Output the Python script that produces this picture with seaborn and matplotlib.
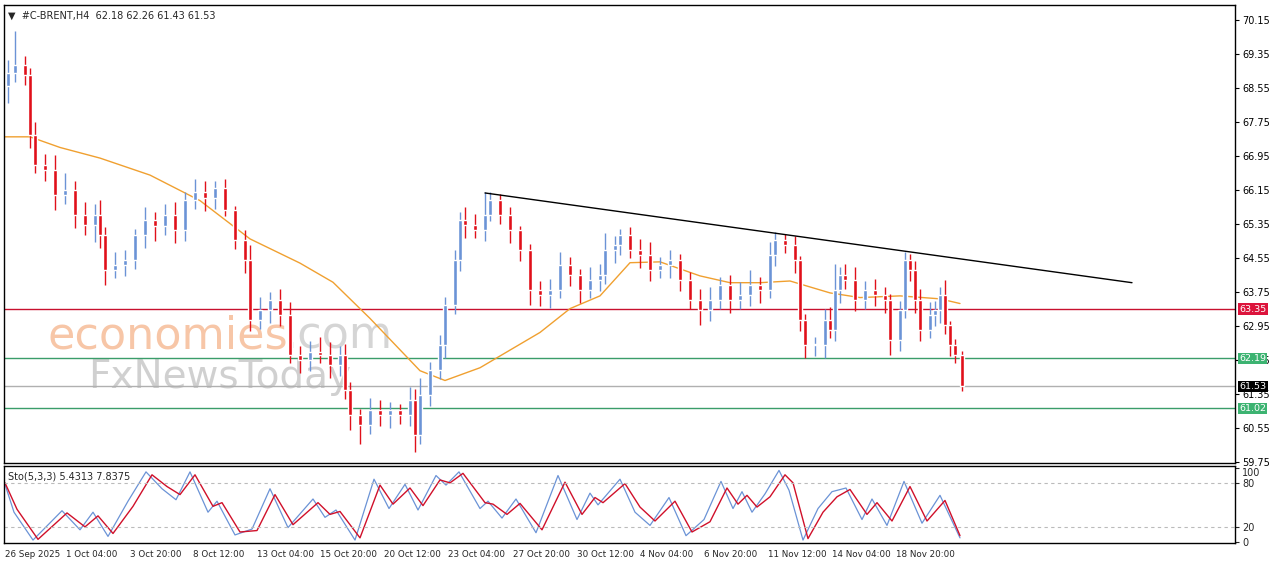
import matplotlib
matplotlib.use("Agg")
import matplotlib.pyplot as plt
import seaborn as sns
import numpy as np
import pandas as pd

# ---------------- data ----------------
times = [8,15,25,30,35,45,55,65,75,85,
         95,100,105,115,125,135,145,155,165,175,
         185,195,205,215,225,235,245,250,260,270,
         280,290,300,310,320,330,340,345,350,360,
         370,380,390,400,410,415,420,430,440,445,
         455,460,465,475,485,490,500,510,520,530,
         540,550,560,570,580,590,600,605,615,620,
         630,640,650,660,670,680,690,700,710,720,
         730,740,750,760,770,775,785,795,800,805,
         815,825,830,835,840,845,855,865,875,885,
         890,900,905,910,915,920,930,935,940,945,
         950,955,962]
closes = [68.90,69.09,68.86,67.44,66.74,66.62,66.03,66.15,65.56,65.33,
          65.56,65.09,64.27,64.38,64.50,65.09,65.44,65.30,65.56,65.21,
          65.91,66.10,65.95,66.20,65.68,64.97,64.50,63.09,63.33,63.56,
          63.21,62.27,62.15,62.35,62.27,62.03,62.27,61.44,60.85,60.62,
          60.97,60.85,60.97,60.85,61.21,60.38,61.32,61.91,62.50,63.44,
          64.50,65.44,65.33,65.21,65.56,65.91,65.56,65.21,64.74,63.80,
          63.68,63.80,64.38,64.15,63.80,64.03,64.15,64.74,64.86,65.09,
          64.74,64.62,64.27,64.38,64.50,64.03,63.56,63.33,63.56,63.91,
          63.56,63.68,63.91,63.80,64.62,64.97,64.86,64.50,63.09,62.50,
          62.50,63.09,62.86,63.80,64.15,64.03,63.56,63.80,63.68,63.56,
          62.62,63.33,64.50,64.27,63.56,62.86,63.21,63.33,63.68,62.97,
          62.50,62.27,61.53]
first_open = 68.60
wick_up = [0.30,0.80,0.20,0.15,0.30,0.25,0.35,0.40,0.20,0.30,
           0.25,0.35,0.20,0.30,0.25,0.15,0.30,0.20,0.25,0.30,
           0.20,0.30,0.25,0.15,0.20,0.10,0.25,0.35,0.30,0.20,
           0.25,0.30,0.20,0.25,0.35,0.30,0.20,0.25,0.20,0.15,
           0.30,0.25,0.20,0.15,0.30,0.25,0.40,0.20,0.25,0.20,
           0.25,0.20,0.30,0.25,0.55,0.20,0.15,0.20,0.10,0.15,
           0.20,0.25,0.30,0.20,0.15,0.30,0.25,0.40,0.20,0.15,
           0.20,0.25,0.30,0.20,0.25,0.15,0.20,0.25,0.30,0.20,
           0.25,0.30,0.35,0.20,0.30,0.20,0.15,0.20,0.10,0.15,
           0.20,0.25,0.30,0.60,0.20,0.25,0.30,0.20,0.25,0.20,
           0.15,0.20,0.20,0.15,0.20,0.25,0.30,0.20,0.20,0.35,
           0.10,0.15,0.10]
wick_dn = [0.40,0.20,0.25,0.30,0.20,0.25,0.35,0.20,0.30,0.25,
           0.40,0.30,0.35,0.20,0.25,0.20,0.30,0.35,0.20,0.30,
           0.25,0.20,0.30,0.25,0.15,0.20,0.30,0.25,0.20,0.30,
           0.25,0.20,0.30,0.25,0.20,0.30,0.25,0.20,0.35,0.45,
           0.20,0.25,0.30,0.20,0.25,0.40,0.20,0.25,0.20,0.30,
           0.20,0.25,0.30,0.20,0.25,0.15,0.20,0.30,0.25,0.35,
           0.25,0.30,0.20,0.25,0.30,0.20,0.25,0.20,0.30,0.25,
           0.20,0.30,0.25,0.20,0.30,0.25,0.20,0.35,0.25,0.20,
           0.30,0.20,0.25,0.30,0.20,0.25,0.20,0.30,0.25,0.30,
           0.25,0.30,0.20,0.25,0.30,0.20,0.25,0.20,0.25,0.30,
           0.35,0.25,0.20,0.25,0.30,0.25,0.20,0.25,0.30,0.20,
           0.25,0.20,0.10]

ma_times = [5,30,60,100,150,200,250,300,333,370,420,445,480,540,570,600,630,660,700,730,760,790,830,860,900,940,960]
ma_values = [67.40,67.40,67.15,66.90,66.50,65.90,65.00,64.43,63.98,63.13,61.90,61.67,61.97,62.80,63.36,63.66,64.44,64.46,64.13,63.97,63.97,64.01,63.73,63.62,63.66,63.59,63.48]

trend_times = [485, 1132]
trend_values = [66.08, 63.97]

levels = [63.35, 62.19, 61.53, 61.02]
level_colors = ["#c8102e", "#3a9d6a", "#b0b0b0", "#3a9d6a"]
level_box = ["#dc143c", "#3cb371", "#000000", "#3cb371"]

sto_d_t = [5,17,38,67,85,98,113,133,152,167,180,195,213,222,240,257,275,293,318,330,340,360,380,393,410,423,440,450,463,485,
           493,507,520,542,565,582,595,603,625,640,655,675,692,710,727,738,747,757,770,785,793,808,823,837,850,867,877,892,910,927,945,960]
sto_d_v = [80,44,3,39,20,35,11,48,91,75,64,91,48,53,13,15,64,23,53,37,41,5,77,51,73,49,84,80,93,53,
           51,37,52,16,81,37,60,53,79,47,28,55,13,27,73,51,63,47,61,91,80,4,40,61,71,37,53,28,75,28,56,8]
sto_k_t = [5,14,33,62,80,93,108,128,146,162,176,190,208,217,235,252,270,288,313,325,336,355,374,389,405,418,436,446,459,480,
           488,502,516,536,558,577,590,598,620,635,650,669,686,704,721,733,742,752,765,779,789,803,818,832,846,862,872,887,904,922,940,960]
sto_k_v = [78,40,2,42,16,40,7,55,95,72,57,95,40,55,9,17,72,19,58,33,43,2,85,45,78,43,90,77,95,45,
           55,32,58,12,90,30,66,50,85,40,22,60,8,30,82,45,68,40,65,97,70,2,45,68,73,30,58,22,82,25,63,5]

tick_pos = [5,66,130,193,257,320,384,448,513,577,640,704,768,832,896]
tick_labels = ["26 Sep 2025","1 Oct 04:00","3 Oct 20:00","8 Oct 12:00","13 Oct 04:00","15 Oct 20:00",
               "20 Oct 12:00","23 Oct 04:00","27 Oct 20:00","30 Oct 12:00","4 Nov 04:00","6 Nov 20:00",
               "11 Nov 12:00","14 Nov 04:00","18 Nov 20:00"]
price_ticks = [70.15,69.35,68.55,67.75,66.95,66.15,65.35,64.55,63.75,62.95,62.15,61.35,60.55,59.75]

# ---------------- figure ----------------
sns.set_style("white")
plt.rcParams["font.family"] = "DejaVu Sans"
W, H = 1280, 567
fig = plt.figure(figsize=(W/100, H/100), dpi=100)
fig.patch.set_facecolor("white")

def ax_rect(l, t, r, b):
    return [l/W, 1-b/H, (r-l)/W, (b-t)/H]

ax = fig.add_axes(ax_rect(4, 5, 1235, 463))
ax2 = fig.add_axes(ax_rect(4, 466, 1235, 543))

BULL, BEAR = "#6b93d6", "#e0101a"
opens = [first_open] + closes[:-1]
df = pd.DataFrame({"t": times, "o": opens, "c": closes, "wu": wick_up, "wd": wick_dn})
df["hi"] = df[["o", "c"]].max(axis=1) + df["wu"]
df["lo"] = df[["o", "c"]].min(axis=1) - df["wd"]
df["col"] = np.where(df["c"] >= df["o"], BULL, BEAR)
ax.vlines(df["t"], df["lo"], df["hi"], colors=df["col"], linewidth=1, zorder=3)
body = (df["c"] - df["o"]).abs().clip(lower=0.03)
ax.bar(df["t"], body, bottom=df[["o", "c"]].min(axis=1), width=4.5, color=df["col"], zorder=4)

sns.lineplot(x=ma_times, y=ma_values, ax=ax, color="#f0a030", linewidth=1, zorder=2)
sns.lineplot(x=trend_times, y=trend_values, ax=ax, color="black", linewidth=1, zorder=5)
for lv, lc in zip(levels, level_colors):
    ax.axhline(lv, color=lc, linewidth=1, zorder=1)

# watermark
ax.text(48, 62.72, "economies", fontsize=32, color="#f5b38a", alpha=0.75, zorder=0, va="center")
ax.text(283, 62.72, ".com", fontsize=32, color="#c8c8c8", alpha=0.75, zorder=0, va="center")
ax.text(88, 61.75, "FxNewsToday", fontsize=28, color="#bdbdbd", alpha=0.7, zorder=0, va="center")

ax.set_xlim(4, 1235)
ax.set_ylim(59.73, 70.50)
ax.yaxis.tick_right()
ax.set_yticks(price_ticks)
ax.set_yticklabels([f"{p:.2f}" for p in price_ticks])
ax.tick_params(axis="y", labelsize=7, length=3, pad=2, colors="black", direction="out")
ax.set_xticks([])
ax.set_xlabel(""); ax.set_ylabel("")
for s in ax.spines.values():
    s.set_color("black"); s.set_linewidth(1)
for lv, bc in zip(levels, level_box):
    ax.text(1.0035, lv, f"{lv:.2f}", transform=ax.get_yaxis_transform(), fontsize=6.8, color="white",
            va="center", ha="left", zorder=10,
            bbox=dict(boxstyle="square,pad=0.12", facecolor=bc, edgecolor="none"))
ax.text(0.003, 0.987, "\u25bc  #C-BRENT,H4  62.18 62.26 61.43 61.53", transform=ax.transAxes,
        fontsize=7, va="top", ha="left")

# stochastic
sns.lineplot(x=sto_k_t, y=sto_k_v, ax=ax2, color="#6b93d6", linewidth=0.9)
sns.lineplot(x=sto_d_t, y=sto_d_v, ax=ax2, color="#d0102a", linewidth=1)
for lv in (80, 20):
    ax2.axhline(lv, color="#bbbbbb", linewidth=0.8, linestyle=(0, (3, 3)))
ax2.set_xlim(4, 1235)
ax2.set_ylim(-2, 103)
ax2.yaxis.tick_right()
ax2.set_yticks([100, 80, 20, 0])
ax2.set_yticklabels(["100", "80", "20", "0"])
ax2.tick_params(axis="y", labelsize=7, length=3, pad=2)
for lbl in ax2.get_yticklabels():
    if lbl.get_text() == "100":
        lbl.set_va("top")
ax2.set_xticks(tick_pos)
ax2.set_xticklabels(tick_labels, ha="left")
ax2.tick_params(axis="x", labelsize=6.3, length=4, pad=1)
ax2.set_xlabel(""); ax2.set_ylabel("")
for s in ax2.spines.values():
    s.set_color("black"); s.set_linewidth(1)
ax2.text(0.003, 0.93, "Sto(5,3,3) 5.4313 7.8375", transform=ax2.transAxes, fontsize=7, va="top")

fig.savefig("out.png", dpi=100, facecolor="white")
